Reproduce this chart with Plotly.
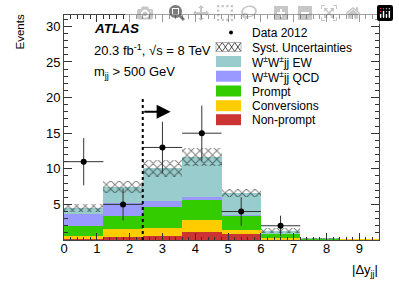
import plotly.graph_objects as go
import numpy as np

# bins of |Delta y_jj|
bin_centers = [0.6, 1.8, 3.0, 4.2, 5.4, 6.6, 7.8, 9.0]
bin_width = 1.2

nonprompt   = [0.10, 0.45, 0.50, 1.10, 0.80, 0.10, 0.02, 0.02]
conversions = [0.50, 1.05, 1.20, 1.77, 0.65, 0.20, 0.02, 0.03]
prompt      = [1.43, 1.93, 3.00, 2.81, 1.98, 0.56, 0.11, 0.00]
wwjj_qcd    = [1.64, 1.77, 0.84, 0.32, 0.12, 0.04, 0.00, 0.00]
wwjj_ew     = [0.83, 2.20, 4.51, 5.70, 3.05, 0.43, 0.02, 0.00]
syst_unc    = [0.60, 0.85, 1.15, 1.27, 0.60, 0.33, 0.05, 0.02]

data_x = [0.6, 1.8, 3.0, 4.2, 5.4, 6.6]
data_y = [11, 5, 13, 15, 4, 2]

cut_value = 2.4
cut_height = 20.0
arrow_y = 18.0
arrow_end = 3.25

x_ticks = list(range(10))
y_ticks = [5, 10, 15, 20, 25, 30]

components = [
    ("Non-prompt", nonprompt, "#CC3333"),
    ("Conversions", conversions, "#FFCC00"),
    ("Prompt", prompt, "#33CC00"),
    ("W<sup>±</sup>W<sup>±</sup>jj QCD", wwjj_qcd, "#9999FF"),
    ("W<sup>±</sup>W<sup>±</sup>jj EW", wwjj_ew, "#99CCCC"),
]

FONT = "Liberation Sans, Arial, sans-serif"
fig = go.Figure()

W, H = 399, 286
L, R, T, B = 64, 20, 15, 46
pw, ph = W - L - R, H - T - B

def px2paper(px, py):
    return (px - L) / pw, (H - B - py) / ph

base = np.zeros(len(bin_centers))
for i, (name, vals, col) in enumerate(components):
    v = np.array(vals)
    fig.add_trace(go.Bar(x=bin_centers, y=v, base=base.copy(), width=bin_width,
                         name=name, marker=dict(color=col, line=dict(width=0)),
                         showlegend=False))
    base = base + v
total = base
unc = np.array(syst_unc)

hatch = dict(shape="x", fgcolor="black", bgcolor="rgba(255,255,255,0)",
             size=6, solidity=0.3, fillmode="overlay")

fig.add_trace(go.Bar(x=bin_centers, y=2 * unc, base=total - unc, width=bin_width,
                     name="Syst. Uncertainties", showlegend=False,
                     marker=dict(color="rgba(0,0,0,0)", line=dict(width=0), pattern=hatch)))

fig.add_trace(go.Scatter(x=data_x, y=data_y, mode="markers", name="Data 2012",
                         showlegend=False,
                         marker=dict(color="black", size=6),
                         error_y=dict(type="data", array=np.sqrt(data_y), color="#333333",
                                      thickness=1, width=0),
                         error_x=dict(type="constant", value=bin_width / 2, color="#333333",
                                      thickness=1, width=0)))

# cut line and arrow
fig.add_shape(type="line", x0=cut_value, x1=cut_value, y0=0, y1=cut_height,
              xref="x", yref="y", line=dict(color="black", width=2, dash="dot"))
fig.add_annotation(x=arrow_end, y=arrow_y, ax=cut_value, ay=arrow_y, xref="x", yref="y",
                   axref="x", ayref="y", text="", showarrow=True, arrowhead=2,
                   arrowsize=1.4, arrowwidth=2, arrowcolor="black")

# text annotations
texts = [
    ("<b><i>ATLAS</i></b>", 92, 29, 13.5),
    ("20.3 fb<sup>-1</sup>, √s = 8 TeV", 92, 50, 13),
    ("m<sub>jj</sub> > 500 GeV", 92, 72, 13),
]
for txt, px, py, fs in texts:
    xp, yp = px2paper(px, py)
    fig.add_annotation(x=xp, y=yp, xref="paper", yref="paper", text=txt,
                       showarrow=False, xanchor="left", yanchor="middle",
                       font=dict(family=FONT, size=fs, color="black"))

# axis titles
ex, ey = px2paper(20, 13)
fig.add_annotation(x=ex, y=ey, xref="paper", yref="paper", text="Events", textangle=-90,
                   showarrow=False, xanchor="center", yanchor="top",
                   font=dict(family=FONT, size=11.5, color="black"))
tx, ty = px2paper(380, 270)
fig.add_annotation(x=tx, y=ty, xref="paper", yref="paper", text="|Δy<sub>jj</sub>|",
                   showarrow=False, xanchor="right", yanchor="middle",
                   font=dict(family=FONT, size=13, color="black"))

# ---- manual legend (ROOT-style compact rows) ----
leg_names = ["Data 2012", "Syst. Uncertainties", "W<sup>±</sup>W<sup>±</sup>jj EW",
             "W<sup>±</sup>W<sup>±</sup>jj QCD", "Prompt", "Conversions", "Non-prompt"]
leg_rows = [32.5, 47, 61.5, 76.2, 91, 105.7, 119.7]
box_x0, box_x1, text_x = 216, 241, 250

for name, yc in zip(leg_names, leg_rows):
    xp, yp = px2paper(text_x, yc + 0.5)
    fig.add_annotation(x=xp, y=yp, xref="paper", yref="paper", text=name,
                       showarrow=False, xanchor="left", yanchor="middle",
                       font=dict(family=FONT, size=12, color="black"))

# data marker key
cx0, cy0 = px2paper(229, 30.5)
cx1, cy1 = px2paper(233, 34.5)
fig.add_shape(type="circle", xref="paper", yref="paper", x0=cx0, x1=cx1, y0=cy1, y1=cy0,
              fillcolor="black", line=dict(width=0))

# solid colour keys
for (name, vals, col), yc in zip(components[::-1], leg_rows[2:]):
    x0, y0 = px2paper(box_x0, yc - 5.5)
    x1, y1 = px2paper(box_x1, yc + 5.5)
    fig.add_shape(type="rect", xref="paper", yref="paper", x0=x0, x1=x1, y0=y1, y1=y0,
                  fillcolor=col, line=dict(width=0))

# hatched key drawn as a small cross lattice
n_cells = 4
cell = (box_x1 - box_x0) / n_cells
top, bot = leg_rows[1] - 4.5, leg_rows[1] + 4.5
for k in range(n_cells):
    xa = box_x0 + k * cell
    xb = xa + cell
    for (p0, p1) in (((xa, top), (xb, bot)), ((xa, bot), (xb, top))):
        a0, b0 = px2paper(*p0)
        a1, b1 = px2paper(*p1)
        fig.add_shape(type="line", xref="paper", yref="paper", x0=a0, y0=b0, x1=a1, y1=b1,
                      line=dict(color="#222222", width=0.8))
rx0, ry0 = px2paper(box_x0, top)
rx1, ry1 = px2paper(box_x1, bot)
fig.add_shape(type="rect", xref="paper", yref="paper", x0=rx0, x1=rx1, y0=ry1, y1=ry0,
              fillcolor="rgba(0,0,0,0)", line=dict(color="#888888", width=0.6))

axis_common = dict(ticks="inside", tickcolor="#333333", mirror="ticks",
                   showline=True, linecolor="#444444", linewidth=1, showgrid=False,
                   zeroline=False, automargin=False, ticklabeloverflow="allow",
                   tickfont=dict(family=FONT, size=13, color="black"))

fig.update_layout(
    width=W, height=H, margin=dict(l=L, r=R, t=T, b=B, autoexpand=False),
    paper_bgcolor="white", plot_bgcolor="white",
    barmode="overlay", bargap=0, showlegend=False,
    font=dict(family=FONT, size=12.5, color="black"),
    xaxis=dict(range=[0, 9.6], tickmode="array", tickvals=x_ticks, ticklen=7,
               ticklabelstandoff=-4,
               minor=dict(dtick=0.2, tick0=0, ticks="inside", ticklen=3.5,
                          tickcolor="#333333", showgrid=False),
               **axis_common),
    yaxis=dict(range=[0, 31.6], tickmode="array", tickvals=y_ticks, ticklen=8,
               minor=dict(dtick=1, tick0=0, ticks="inside", ticklen=4,
                          tickcolor="#333333", showgrid=False),
               **axis_common),
)

# remove the default page margin so the figure sits at the window origin
fig.write_html("out.html",
               post_script="document.body.style.margin='0';document.body.style.overflow='hidden';")
